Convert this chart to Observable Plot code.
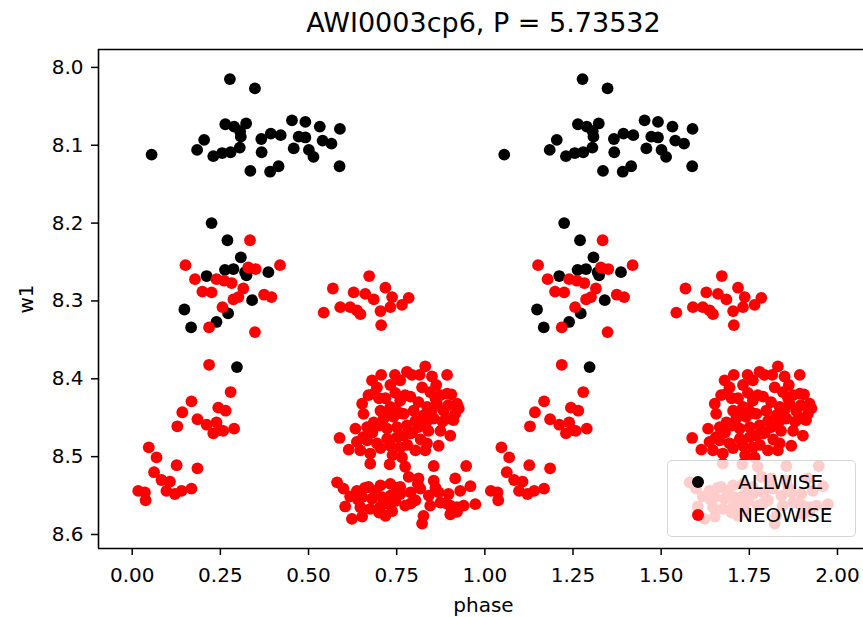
<!DOCTYPE html>
<html><head><meta charset="utf-8">
<script src="https://cdn.jsdelivr.net/npm/d3@7"></script>
<script src="https://cdn.jsdelivr.net/npm/@observablehq/plot@0.6"></script>
<style>
body{margin:0;background:#fff;font-family:"DejaVu Sans",sans-serif;}
#wrap{position:relative;width:863px;height:617px;overflow:hidden;background:#fff;}
#chart{position:absolute;left:0;top:0;}
.lbl{position:absolute;color:#000;white-space:nowrap;line-height:1;}
#title{left:98px;width:771px;top:9px;text-align:center;font-size:27px;}
#xlabel{left:98px;width:771px;top:595px;text-align:center;font-size:20px;}
#ylabel{left:26px;top:299px;font-size:20px;transform:translate(-50%,-50%) rotate(-90deg);}
#legend{position:absolute;left:667px;top:460px;width:189px;height:77px;background:rgba(255,255,255,0.8);border:1px solid rgba(204,204,204,0.8);border-radius:5px;box-sizing:border-box;}
.row{position:absolute;left:0;height:24px;font-size:20px;line-height:24px;color:#000;}
.row span.dot{position:absolute;left:24px;top:6px;width:12px;height:12px;border-radius:50%;}
.row span.t{position:absolute;left:70px;top:0;}
</style></head>
<body>
<div id="wrap">
  <div id="chart"></div>
  <div class="lbl" id="title">AWI0003cp6, P = 5.73532</div>
  <div class="lbl" id="xlabel">phase</div>
  <div class="lbl" id="ylabel">w1</div>
  <div id="legend"></div>
</div>
<script>
const titleText = "AWI0003cp6, P = 5.73532";
const seriesNames = ["ALLWISE", "NEOWISE"];
const seriesColors = ["#000000", "#ff0000"];
const xTicks = [0, 0.25, 0.5, 0.75, 1.0, 1.25, 1.5, 1.75, 2.0];
const yTicks = [8.0, 8.1, 8.2, 8.3, 8.4, 8.5, 8.6];
const xDomain = [-0.0956, 2.0738];
const yDomain = [7.977, 8.618];

// ALLWISE (phase in [0,1); plotted again at phase + 1)
const allwisePhase = [0.055,0.277,0.348,0.204,0.184,0.230,0.255,0.279,0.305,0.264,0.289,0.323,0.308,0.366,0.393,0.421,0.367,0.335,0.391,0.415,0.453,0.491,0.532,0.589,0.472,0.491,0.540,0.565,0.458,0.501,0.514,0.588,0.306,
  0.225,0.270,0.308,0.263,0.287,0.320,0.386,0.211,0.340,0.148,0.272,0.239,0.167,0.297,0.324];
const allwiseW1 = [8.112,8.015,8.027,8.093,8.106,8.114,8.110,8.109,8.103,8.073,8.076,8.072,8.089,8.092,8.085,8.087,8.109,8.133,8.134,8.127,8.068,8.070,8.076,8.079,8.089,8.090,8.094,8.098,8.104,8.106,8.115,8.127,8.082,
  8.200,8.222,8.244,8.260,8.259,8.263,8.263,8.268,8.299,8.311,8.316,8.327,8.334,8.385,8.267];

// NEOWISE (phase in [0,1); plotted again at phase + 1)
const neowisePhase = [
  0.334,0.151,0.178,0.239,0.261,0.282,0.199,0.225,0.315,0.287,0.301,0.329,0.350,0.419,0.374,0.395,0.256,0.218,0.348,0.218,0.279,
  0.168,0.142,0.128,0.185,0.211,0.244,0.265,0.239,0.249,0.230,0.258,0.289,0.047,0.069,0.126,0.185,0.062,0.083,0.107,0.017,0.036,0.038,0.097,0.121,0.140,0.168,
  0.672,0.569,0.628,0.661,0.685,0.718,0.737,0.784,0.765,0.590,0.618,0.637,0.647,0.543,0.704,0.732,0.706,
  0.831,0.779,0.793,0.706,0.680,0.850,0.893,0.760,0.732,0.694,0.822,0.845,0.893,0.652,0.670,0.685,0.921,0.916,0.926,0.656,0.864,0.883,0.704,0.732,0.760,0.789,0.812,0.836,
  0.685,0.713,0.741,0.770,0.798,0.826,0.855,0.893,0.911,0.666,0.723,0.751,0.779,0.812,0.874,0.588,0.637,0.666,0.694,0.723,0.751,0.770,
  0.614,0.647,0.675,0.704,0.732,0.760,0.836,0.869,0.831,0.675,0.730,0.774,0.855,0.947,0.765,
  0.746,0.803,0.774,0.874,0.718,0.794,0.840,0.746,0.681,0.902,0.633,0.738,0.803,0.896,0.862,
  0.700,0.760,0.818,0.850,0.790,0.725,0.655,0.880,0.905,0.815,0.745,0.700,0.780,0.860,0.835,
  0.581,0.599,0.637,0.670,0.704,0.732,0.760,0.784,0.812,0.855,0.916,0.959,
  0.652,0.680,0.708,0.732,0.760,0.789,0.841,0.869,0.897,0.647,0.675,0.704,0.737,0.803,0.874,0.902,0.921,0.940,0.973,
  0.623,0.652,0.826,0.822,0.902,0.921,
  0.618,0.689,0.746,0.774,0.817,0.718,0.604,0.845,0.930,
  0.660,0.720,0.790,0.860,0.890,0.700,0.750,0.810,0.640];
const neowiseW1 = [
  8.222,8.254,8.272,8.272,8.274,8.277,8.288,8.289,8.284,8.298,8.295,8.257,8.259,8.254,8.292,8.295,8.308,8.334,8.340,8.382,8.417,
  8.429,8.443,8.461,8.452,8.459,8.437,8.441,8.456,8.466,8.470,8.467,8.464,8.488,8.501,8.511,8.515,8.520,8.530,8.532,8.544,8.546,8.556,8.544,8.548,8.544,8.541,
  8.268,8.284,8.289,8.291,8.298,8.283,8.295,8.296,8.305,8.308,8.308,8.312,8.317,8.315,8.313,8.308,8.331,
  8.384,8.391,8.395,8.395,8.402,8.397,8.395,8.402,8.408,8.411,8.411,8.417,8.419,8.432,8.421,8.419,8.432,8.445,8.438,8.445,8.432,8.441,8.441,8.436,8.428,8.423,8.430,8.436,
  8.456,8.451,8.449,8.445,8.441,8.447,8.451,8.451,8.453,8.462,8.464,8.462,8.460,8.462,8.467,8.476,8.481,8.479,8.483,8.477,8.475,8.473,
  8.491,8.492,8.496,8.489,8.486,8.488,8.483,8.486,8.492,8.509,8.510,8.513,8.512,8.512,8.501,
  8.418,8.454,8.421,8.421,8.425,8.469,8.467,8.438,8.469,8.473,8.464,8.498,8.492,8.434,8.408,
  8.425,8.444,8.478,8.440,8.470,8.445,8.475,8.455,8.420,8.395,8.395,8.460,8.485,8.425,8.455,
  8.533,8.541,8.544,8.539,8.537,8.535,8.539,8.526,8.528,8.531,8.528,8.538,
  8.552,8.554,8.552,8.550,8.548,8.546,8.550,8.546,8.548,8.565,8.567,8.564,8.570,8.556,8.559,8.563,8.565,8.563,8.561,
  8.580,8.577,8.576,8.586,8.574,8.571,
  8.551,8.544,8.557,8.563,8.541,8.576,8.564,8.563,8.544,
  8.540,8.560,8.560,8.540,8.560,8.572,8.540,8.535,8.555];

function rows(ph, w) {
  const out = [];
  ph.forEach((p, i) => out.push({phase: p, w1: w[i]}));
  ph.forEach((p, i) => out.push({phase: p + 1, w1: w[i]}));
  return out;
}
const allwise = rows(allwisePhase, allwiseW1);
const neowise = rows(neowisePhase, neowiseW1);

const chart = Plot.plot({
  width: 863, height: 617,
  marginLeft: 98, marginRight: 0, marginTop: 49, marginBottom: 69,
  x: {domain: xDomain},
  y: {domain: yDomain, reverse: true},
  style: {fontFamily: "DejaVu Sans", fontSize: "20px", color: "#000", background: "transparent", overflow: "visible"},
  marks: [
    Plot.axisX({ticks: xTicks, tickFormat: d => d.toFixed(2), tickSize: 7, tickPadding: 12, strokeWidth: 1.5, label: null, fontSize: 20}),
    Plot.axisY({ticks: yTicks, tickFormat: d => d.toFixed(1), tickSize: 7, tickPadding: 8, strokeWidth: 1.5, label: null, fontSize: 20}),
    Plot.dot(allwise, {x: "phase", y: "w1", r: 5.9, fill: seriesColors[0], stroke: null}),
    Plot.dot(neowise, {x: "phase", y: "w1", r: 5.9, fill: seriesColors[1], stroke: null}),
    Plot.ruleX([xDomain[0]], {stroke: "#000", strokeWidth: 1.6}),
    Plot.ruleY(yDomain, {stroke: "#000", strokeWidth: 1.6})
  ]
});
document.getElementById("chart").appendChild(chart);

const legend = document.getElementById("legend");
seriesNames.forEach((name, i) => {
  const row = document.createElement("div");
  row.className = "row";
  row.style.top = (9 + i * 33) + "px";
  row.style.width = "100%";
  const dot = document.createElement("span");
  dot.className = "dot";
  dot.style.background = seriesColors[i];
  const t = document.createElement("span");
  t.className = "t";
  t.textContent = name;
  row.appendChild(dot); row.appendChild(t);
  legend.appendChild(row);
});
document.getElementById("title").textContent = titleText;
</script>
</body></html>
